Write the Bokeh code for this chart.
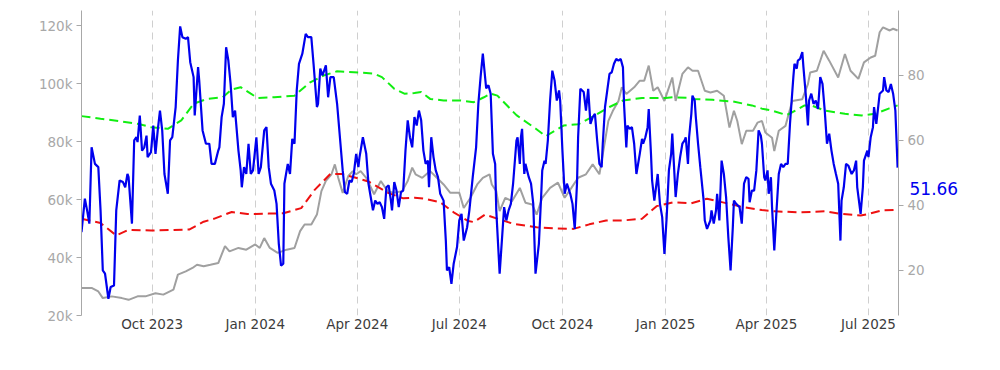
import pandas as pd
from bokeh.plotting import figure
from bokeh.models import (Range1d, LinearAxis, FixedTicker, NumeralTickFormatter,
                          DatetimeTickFormatter, CustomJSTickFormatter)
from bokeh.embed import file_html
from bokeh.resources import INLINE

START = "2023-07-30"
SPAN_DAYS = 728.8

# Oscillator (blue, right axis): day offsets from START and values
osc_days = [0, 3, 5, 7, 9, 12, 15, 17, 19, 21, 24, 26, 29, 31, 34, 37, 39, 41, 42, 45,
            47, 49, 50, 52, 54, 56, 58, 59, 62, 64, 66, 68, 70, 72, 74, 77, 79, 81, 83, 84,
            86, 88, 90, 93, 95, 97, 100, 101, 104, 105, 108, 111, 114, 116, 119, 122, 123, 125, 127, 129,
            131, 133, 135, 137, 138, 140, 142, 143, 145, 147, 149, 151, 153, 156, 158, 160, 163, 165, 167, 169,
            172, 174, 176, 178, 180, 181, 184, 186, 188, 190, 192, 194, 197, 200, 202, 205, 207, 210, 211, 213,
            215, 218, 220, 222, 225, 228, 231, 233, 235, 237, 239, 241, 243, 245, 247, 248, 251, 254, 256, 258,
            260, 262, 264, 266, 268, 270, 272, 274, 276, 277, 279, 281, 283, 285, 287, 289, 291, 293, 295, 297,
            299, 301, 303, 305, 307, 309, 310, 312, 314, 316, 318, 320, 323, 325, 326, 328, 330, 332, 335, 337,
            339, 341, 344, 346, 349, 352, 354, 356, 358, 361, 363, 365, 367, 369, 370, 373, 375, 377, 379, 381,
            383, 385, 388, 389, 391, 392, 393, 395, 396, 399, 401, 403, 405, 408, 410, 411, 413, 414, 416, 418,
            420, 422, 424, 426, 427, 429, 431, 433, 436, 438, 440, 442, 443, 445, 448, 450, 452, 454, 456, 458,
            460, 462, 464, 465, 467, 469, 471, 473, 475, 477, 479, 481, 483, 484, 486, 487, 489, 491, 493, 495,
            498, 500, 501, 503, 505, 506, 508, 509, 511, 514, 516, 518, 520, 522, 524, 526, 527, 530, 532, 534,
            536, 538, 539, 541, 542, 544, 545, 547, 548, 550, 552, 555, 556, 558, 561, 562, 564, 566, 567, 569,
            571, 573, 575, 577, 579, 581, 582, 584, 587, 589, 591, 593, 595, 596, 598, 600, 602, 604, 606, 607,
            609, 610, 612, 613, 615, 616, 618, 620, 622, 624, 626, 628, 630, 632, 635, 636, 638, 639, 641, 643,
            644, 646, 648, 649, 651, 653, 655, 657, 659, 661, 663, 665, 667, 669, 671, 673, 675, 677, 678, 680,
            682, 684, 687, 689, 691, 692, 695, 697, 698, 701, 702, 704, 706, 707, 709, 710, 712, 715, 716, 718,
            720, 722, 724, 726, 728]
osc_vals = [31.8, 42.1, 38.5, 34.4, 57.9, 52.8, 51.8, 38.5, 20.0, 19.0, 11.3, 14.9, 15.4, 38.5, 47.7, 47.2, 45.6, 49.7, 48.7, 34.4,
            60.0, 61.0, 59.5, 67.7, 56.9, 57.9, 61.5, 54.9, 56.4, 64.6, 55.9, 63.1, 69.2, 63.1, 49.7, 43.6, 60.0, 61.0, 67.2, 70.3,
            84.6, 95.1, 91.8, 91.3, 91.8, 84.1, 79.5, 67.7, 82.6, 78.5, 63.1, 59.0, 59.0, 52.8, 52.8, 56.9, 57.9, 67.2, 71.3, 88.7,
            84.6, 77.4, 67.2, 69.2, 65.1, 56.9, 50.8, 45.6, 51.8, 49.7, 59.0, 49.7, 50.8, 61.0, 49.7, 51.8, 63.1, 64.1, 51.8, 46.7,
            44.6, 40.5, 28.2, 21.5, 22.1, 46.7, 52.8, 49.7, 60.5, 59.0, 75.4, 83.6, 86.7, 92.8, 91.8, 91.8, 83.6, 70.3, 71.3, 82.1,
            80.0, 83.1, 73.3, 79.5, 79.5, 71.3, 59.0, 50.8, 44.1, 43.6, 47.7, 47.2, 50.0, 55.9, 51.8, 54.9, 61.0, 55.9, 46.7, 42.6,
            38.5, 41.5, 40.5, 41.0, 39.5, 35.9, 45.6, 46.2, 41.5, 38.5, 47.2, 44.6, 39.5, 44.1, 44.6, 56.9, 66.2, 61.0, 57.9, 67.2,
            64.6, 69.2, 66.2, 56.9, 52.8, 53.8, 45.6, 61.0, 54.9, 50.8, 48.7, 43.6, 41.5, 29.2, 20.0, 21.0, 15.9, 22.1, 27.2, 35.4,
            37.4, 29.2, 33.3, 38.5, 48.7, 57.9, 71.3, 79.5, 86.7, 76.0, 77.0, 74.4, 55.9, 52.8, 38.5, 19.0, 29.2, 39.5, 35.4, 38.5,
            40.5, 46.7, 60.0, 61.0, 52.8, 61.0, 63.6, 49.7, 52.8, 48.7, 46.7, 40.5, 19.0, 28.2, 42.6, 50.8, 53.8, 52.8, 60.0, 72.3,
            81.5, 78.5, 72.3, 75.4, 72.3, 56.9, 43.6, 46.7, 43.6, 40.5, 32.8, 46.7, 61.0, 75.9, 74.9, 69.2, 75.9, 65.1, 67.2, 68.2,
            60.0, 52.8, 51.8, 59.0, 70.3, 75.4, 80.5, 81.0, 83.6, 85.1, 84.6, 85.1, 82.5, 71.0, 57.9, 64.6, 63.6, 64.1, 59.0, 49.7,
            55.9, 60.5, 59.0, 61.0, 64.1, 69.7, 55.9, 47.7, 41.5, 49.7, 40.5, 36.4, 25.1, 36.4, 50.8, 55.9, 62.1, 42.6, 49.7, 54.9,
            59.0, 60.0, 61.0, 52.8, 61.0, 68.2, 73.8, 72.3, 67.2, 59.0, 51.8, 41.5, 35.4, 32.8, 35.4, 38.5, 34.4, 38.5, 43.6, 35.4,
            53.8, 49.7, 42.6, 30.2, 20.0, 33.3, 41.5, 40.5, 39.5, 34.4, 46.7, 48.7, 48.2, 41.0, 44.6, 44.6, 50.8, 63.1, 61.5, 59.0,
            48.7, 47.7, 50.8, 43.6, 48.7, 39.5, 26.2, 38.5, 49.7, 52.8, 51.8, 52.8, 52.8, 65.1, 79.5, 83.6, 82.1, 84.6, 85.1, 87.2,
            82.6, 74.4, 64.6, 72.3, 74.4, 71.3, 72.3, 69.7, 79.5, 77.4, 69.2, 59.0, 62.1, 56.9, 52.8, 49.7, 46.7, 29.2, 41.5, 45.6,
            52.8, 52.3, 49.7, 50.8, 53.8, 45.6, 37.4, 45.6, 53.8, 56.9, 54.9, 61.0, 64.1, 70.3, 65.1, 68.2, 74.4, 75.4, 79.5, 75.4,
            74.9, 77.4, 74.4, 69.2, 51.66]

# Price (grey, left axis, thousands)
price_days = [0, 9, 15, 19, 27, 36, 42, 50, 57, 66, 73, 82, 86, 93, 99, 103, 109, 115, 122, 128,
              132, 140, 147, 155, 159, 163, 168, 175, 183, 190, 195, 199, 205, 210, 214, 218, 223, 226, 229, 233,
              238, 242, 245, 249, 254, 261, 267, 273, 279, 286, 291, 295, 298, 304, 311, 317, 323, 329, 337, 341,
              347, 353, 358, 364, 366, 370, 373, 378, 384, 391, 396, 402, 406, 411, 418, 425, 431, 437, 443, 450,
              456, 462, 465, 470, 474, 479, 482, 486, 493, 498, 502, 506, 510, 514, 520, 527, 530, 536, 541, 545,
              550, 556, 561, 567, 573, 578, 582, 585, 589, 593, 599, 603, 607, 610, 616, 618, 622, 628, 634, 643,
              648, 650, 656, 662, 667, 675, 681, 686, 693, 698, 704, 708, 712, 715, 721, 724, 728]
price_k = [29.5, 29.5, 28.3, 26.0, 26.6, 26.0, 25.4, 26.6, 26.6, 27.7, 27.2, 28.9, 34.1, 35.2, 36.4, 37.5, 37.0, 37.5, 38.1, 43.9,
           42.1, 43.3, 42.7, 44.5, 43.3, 46.7, 43.3, 41.6, 42.7, 43.3, 49.1, 51.4, 51.4, 54.8, 62.9, 66.4, 68.7, 72.1, 67.5, 62.3,
           68.1, 69.8, 68.7, 69.8, 67.5, 61.8, 66.4, 62.9, 62.3, 62.9, 66.4, 71.0, 68.7, 67.5, 69.8, 67.5, 65.2, 62.3, 62.3, 57.1,
           60.6, 65.2, 67.5, 68.7, 65.2, 62.9, 56.0, 60.6, 59.4, 64.0, 58.9, 58.3, 54.8, 60.6, 64.0, 65.8, 60.6, 64.0, 67.5, 68.7,
           72.1, 68.7, 75.6, 87.1, 90.6, 94.0, 98.7, 96.4, 98.7, 101.0, 101.0, 106.2, 97.5, 98.7, 94.0, 102.1, 94.0, 103.3, 105.6, 104.4,
           104.4, 97.5, 96.9, 97.5, 95.8, 84.8, 90.6, 87.1, 79.1, 83.7, 83.7, 86.5, 87.1, 83.1, 81.3, 76.7, 83.7, 85.4, 94.0, 94.6,
           99.8, 103.8, 104.4, 111.3, 107.9, 102.1, 110.2, 104.4, 101.6, 107.3, 109.0, 109.6, 117.7, 119.4, 118.3, 118.9, 118.3]

# Upper band (green dashed, right axis)
upper_days = [0, 17, 35, 51, 62, 77, 89, 100, 112, 126, 134, 142, 151, 157, 172, 190, 204, 216, 228, 243,
              261, 268, 273, 279, 288, 297, 303, 311, 323, 338, 350, 359, 365, 371, 388, 405, 414, 430, 443, 458,
              471, 483, 500, 521, 528, 542, 546, 563, 581, 598, 607, 616, 629, 640, 645, 651, 663, 681, 696, 708,
              720, 728]
upper_vals = [67.5, 66.7, 65.9, 65.1, 64.1, 63.6, 66.2, 71.3, 72.8, 73.3, 75.7, 76.4, 74.4, 73.1, 73.3, 73.8, 77.9, 80.0, 81.3, 81.0,
              80.6, 79.5, 77.9, 75.9, 74.4, 74.6, 74.9, 72.8, 72.3, 72.3, 71.8, 73.3, 74.4, 73.8, 67.8, 63.7, 61.3, 64.6, 65.0, 67.7,
              70.3, 72.3, 73.1, 73.1, 73.3, 73.1, 72.8, 72.5, 72.0, 70.8, 69.8, 69.2, 67.8, 69.8, 70.8, 70.8, 69.2, 68.2, 67.7, 68.2,
              69.8, 70.8]

# Lower band (red dashed, right axis)
lower_days = [0, 17, 31, 42, 62, 96, 109, 118, 134, 148, 155, 167, 180, 196, 208, 222, 232, 243, 256, 274,
              287, 297, 306, 320, 332, 345, 350, 360, 373, 385, 406, 421, 439, 453, 468, 483, 500, 513, 528, 544,
              558, 574, 590, 607, 619, 640, 663, 678, 695, 702, 714, 728]
lower_vals = [35.9, 34.6, 30.8, 32.5, 32.3, 32.6, 35.0, 35.9, 38.0, 37.4, 37.4, 37.5, 37.6, 39.2, 44.8, 49.7, 49.7, 48.7, 47.4, 43.8,
              42.2, 42.4, 42.1, 41.0, 37.9, 35.2, 34.9, 37.2, 35.7, 34.4, 33.3, 33.0, 32.8, 34.2, 35.4, 35.4, 35.9, 39.8, 41.0, 40.7,
              42.1, 40.8, 39.5, 38.6, 38.2, 37.9, 38.2, 37.4, 36.9, 37.4, 38.5, 38.7]

x_tick_dates = ["2023-10-01", "2024-01-01", "2024-04-01", "2024-07-01",
                "2024-10-01", "2025-01-01", "2025-04-01", "2025-07-01"]
left_ticks = [20000, 40000, 60000, 80000, 100000, 120000]
right_ticks = [20, 40, 60, 80]

start_ts = pd.Timestamp(START)


def to_dates(days):
    return [start_ts + pd.Timedelta(days=d) for d in days]


def to_ms(ts):
    return ts.value / 1e6


end_ts = start_ts + pd.Timedelta(days=SPAN_DAYS)
tick_ms = [to_ms(pd.Timestamp(d)) for d in x_tick_dates]

FONT = "DejaVu Sans"
AX_GRAY = "#a8a8a8"
BLUE = "#0000ee"

W, H = 990, 360
B_LEFT, B_RIGHT, B_TOP, B_BOTTOM = 81, 92, 10, 45
R_LO, R_HI = 6.15, 100

p = figure(width=W, height=H, x_axis_type="datetime",
           x_range=Range1d(start_ts, end_ts), y_range=Range1d(20000, 125190),
           output_backend="svg", toolbar_location=None,
           min_border_left=B_LEFT, min_border_right=B_RIGHT,
           min_border_top=B_TOP, min_border_bottom=B_BOTTOM)
p.extra_y_ranges = {"right": Range1d(R_LO, R_HI)}
p.outline_line_color = None
p.background_fill_color = "white"
p.border_fill_color = "white"

# x axis
xa = p.xaxis[0]
xa.ticker = FixedTicker(ticks=tick_ms)
xa.formatter = DatetimeTickFormatter(days="%b %Y", months="%b %Y", years="%b %Y")
xa.axis_line_color = None
xa.major_tick_line_color = None
xa.minor_tick_line_color = None
xa.major_tick_out = 0
xa.major_tick_in = 0
xa.major_label_standoff = 0
xa.major_label_text_color = "#3c3c3c"
xa.major_label_text_font = FONT
xa.major_label_text_font_size = "13.5px"

# left axis
ya = p.yaxis[0]
ya.ticker = FixedTicker(ticks=left_ticks)
ya.formatter = NumeralTickFormatter(format="0a")

ra = LinearAxis(y_range_name="right", ticker=FixedTicker(ticks=right_ticks))
p.add_layout(ra, "right")

for ax in (ya, ra):
    ax.axis_line_color = AX_GRAY
    ax.major_tick_line_color = AX_GRAY
    ax.minor_tick_line_color = None
    ax.major_tick_out = 5
    ax.major_tick_in = 0
    ax.major_label_standoff = 4
    ax.major_label_text_color = AX_GRAY
    ax.major_label_text_font = FONT
    ax.major_label_text_font_size = "13.5px"

# last-value tag for the oscillator, drawn as a one-tick axis in the right margin
last = osc_vals[-1]
frame_h = H - B_TOP - B_BOTTOM
tag_drop_px = 21
tag_pos = last - tag_drop_px * (R_HI - R_LO) / frame_h
tag_axis = LinearAxis(y_range_name="right", ticker=FixedTicker(ticks=[tag_pos]),
                      formatter=CustomJSTickFormatter(code=f"return '{last:.2f}';"))
tag_axis.axis_line_color = None
tag_axis.major_tick_line_color = None
tag_axis.minor_tick_line_color = None
tag_axis.major_tick_out = 0
tag_axis.major_tick_in = 0
tag_axis.major_label_standoff = -18
tag_axis.major_label_text_color = BLUE
tag_axis.major_label_text_font = FONT
tag_axis.major_label_text_font_size = "17px"
p.add_layout(tag_axis, "right")

p.xgrid.ticker = FixedTicker(ticks=tick_ms)
p.xgrid.grid_line_color = "#cfcfcf"
p.xgrid.grid_line_dash = "7 5"
p.xgrid.grid_line_width = 1
p.ygrid.visible = False

p.line(to_dates(price_days), [v * 1000 for v in price_k], line_color="#a0a0a0", line_width=2)
p.line(to_dates(upper_days), upper_vals, y_range_name="right", line_color="#11ee11",
       line_width=2, line_dash="9 5")
p.line(to_dates(lower_days), lower_vals, y_range_name="right", line_color="#ee1111",
       line_width=2, line_dash="9 5")
p.line(to_dates(osc_days), osc_vals, y_range_name="right", line_color=BLUE, line_width=2.2)

open("out.html", "w").write(file_html(p, INLINE))
